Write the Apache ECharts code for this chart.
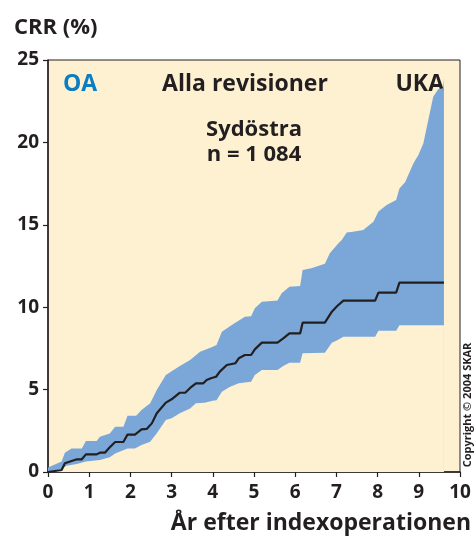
<!DOCTYPE html>
<html>
<head>
	<meta charset="utf-8">
	<script src="https://cdn.jsdelivr.net/npm/echarts@6/dist/echarts.min.js"></script>
</head>
<body style="margin:0;">
	<div id="main" style="width:475px;height:537px;"></div>
	<script type="text/javascript">
        // år efter indexoperationen / CRR (%)
        var meanYears = [0, 0.33, 0.41, 0.70, 0.82, 0.92, 1.18, 1.26, 1.38, 1.50, 1.63, 1.83, 1.93, 2.11, 2.27, 2.40, 2.52, 2.64, 2.86, 3.0, 3.2, 3.33, 3.45, 3.59, 3.77, 3.85, 3.97, 4.08, 4.17, 4.34, 4.55, 4.63, 4.78, 4.93, 5.02, 5.19, 5.57, 5.71, 5.86, 6.12, 6.18, 6.72, 6.89, 7.02, 7.17, 7.94, 8.02, 8.45, 8.53, 9.61];
        var meanValues = [0, 0.12, 0.53, 0.77, 0.77, 1.07, 1.07, 1.17, 1.17, 1.50, 1.82, 1.82, 2.27, 2.27, 2.59, 2.62, 2.95, 3.56, 4.21, 4.41, 4.81, 4.81, 5.10, 5.38, 5.38, 5.58, 5.70, 5.78, 6.09, 6.49, 6.60, 6.90, 7.10, 7.10, 7.44, 7.85, 7.85, 8.11, 8.41, 8.41, 9.06, 9.06, 9.73, 10.07, 10.40, 10.40, 10.88, 10.88, 11.49, 11.49];

        var upperYears = [0, 0.33, 0.41, 0.57, 0.82, 0.92, 1.18, 1.26, 1.50, 1.63, 1.83, 1.93, 2.14, 2.27, 2.48, 2.64, 2.86, 3.2, 3.45, 3.69, 3.97, 4.09, 4.22, 4.46, 4.78, 4.93, 5.02, 5.19, 5.57, 5.67, 5.86, 6.12, 6.18, 6.39, 6.72, 6.84, 7.05, 7.13, 7.25, 7.40, 7.65, 7.90, 8.02, 8.22, 8.45, 8.53, 8.67, 8.87, 8.99, 9.11, 9.23, 9.35, 9.47, 9.59, 9.61];
        var upperValues = [0.28, 0.63, 1.17, 1.43, 1.43, 1.88, 1.88, 2.14, 2.34, 2.75, 2.75, 3.42, 3.42, 3.76, 4.17, 4.98, 5.89, 6.43, 6.80, 7.30, 7.57, 7.71, 8.51, 8.92, 9.42, 9.45, 9.93, 10.33, 10.40, 10.84, 11.24, 11.28, 12.26, 12.36, 12.64, 13.27, 13.88, 14.08, 14.54, 14.58, 14.68, 15.19, 15.80, 16.20, 16.50, 17.21, 17.60, 18.73, 19.24, 19.94, 21.36, 22.77, 23.22, 23.28, 23.90];

        var lowerYears = [0, 0.33, 0.45, 0.70, 0.92, 1.26, 1.50, 1.63, 1.93, 2.11, 2.27, 2.48, 2.64, 2.86, 3.0, 3.2, 3.45, 3.59, 3.80, 4.0, 4.09, 4.22, 4.42, 4.63, 4.93, 5.02, 5.19, 5.57, 5.71, 5.86, 6.12, 6.18, 6.72, 6.89, 7.02, 7.17, 7.94, 8.02, 8.45, 8.53, 9.61];
        var lowerValues = [0, 0.20, 0.38, 0.48, 0.63, 0.73, 0.89, 1.13, 1.43, 1.43, 1.64, 1.84, 2.35, 3.16, 3.26, 3.56, 3.86, 4.17, 4.20, 4.33, 4.35, 4.87, 5.18, 5.38, 5.48, 5.89, 6.19, 6.19, 6.43, 6.63, 6.63, 7.20, 7.24, 7.85, 8.00, 8.21, 8.21, 8.57, 8.57, 8.90, 8.90];

        var xTicks = [0, 1, 2, 3, 4, 5, 6, 7, 8, 9, 10];
        var yTicks = [0, 5, 10, 15, 20, 25];

        function pairs(xs, ys) {
            return xs.map(function (x, i) { return [x, ys[i]]; });
        }

        var cream = '#fdf1d2';
        var blue = '#7ba7d8';
        var dark = '#231f20';
        var font = '"Open Sans", sans-serif';

        var myChart = echarts.init(document.getElementById('main'));
        var option = {
            animation: false,
            backgroundColor: '#ffffff',
            textStyle: { fontFamily: font },
            grid: {
                left: 48, right: 15, top: 60, bottom: 65,
                show: true,
                backgroundColor: cream,
                borderColor: dark,
                borderWidth: 1
            },
            xAxis: {
                type: 'value',
                min: xTicks[0],
                max: xTicks[xTicks.length - 1],
                interval: 1,
                splitLine: { show: false },
                axisLine: { lineStyle: { color: dark, width: 1.5 } },
                axisTick: { length: 5, lineStyle: { color: dark, width: 1.2 } },
                axisLabel: { color: dark, fontSize: 19, fontWeight: 'bold', fontFamily: font, margin: 11 }
            },
            yAxis: {
                type: 'value',
                min: yTicks[0],
                max: yTicks[yTicks.length - 1],
                interval: 5,
                splitLine: { show: false },
                axisLine: { show: true, lineStyle: { color: dark, width: 1.5 } },
                axisTick: { show: true, length: 5, lineStyle: { color: dark, width: 1.2 } },
                axisLabel: { color: dark, fontSize: 19, fontWeight: 'bold', fontFamily: font, margin: 9 }
            },
            series: [
                {
                    name: 'övre',
                    type: 'line',
                    data: pairs(upperYears, upperValues),
                    showSymbol: false,
                    lineStyle: { width: 0 },
                    areaStyle: { color: blue, opacity: 1 },
                    z: 1
                },
                {
                    name: 'undre',
                    type: 'line',
                    data: pairs(lowerYears, lowerValues),
                    showSymbol: false,
                    lineStyle: { width: 0 },
                    areaStyle: { color: cream, opacity: 1 },
                    z: 2
                },
                {
                    name: 'CRR',
                    type: 'line',
                    data: pairs(meanYears, meanValues),
                    showSymbol: false,
                    lineStyle: { color: dark, width: 2.2 },
                    z: 3
                }
            ],
            graphic: [
                { type: 'text', x: 14, y: 28, style: { text: 'CRR (%)', font: 'bold 22px ' + font, fill: dark, verticalAlign: 'middle' } },
                { type: 'text', x: 63, y: 84, style: { text: 'OA', font: 'bold 23px ' + font, fill: '#0b7dc3', verticalAlign: 'middle' } },
                { type: 'text', x: 245, y: 84, style: { text: 'Alla revisioner', font: 'bold 23px ' + font, fill: dark, align: 'center', verticalAlign: 'middle' } },
                { type: 'text', x: 444, y: 84, style: { text: 'UKA', font: 'bold 23px ' + font, fill: dark, align: 'right', verticalAlign: 'middle' } },
                { type: 'text', x: 254, y: 130, style: { text: 'Sydöstra', font: 'bold 22px ' + font, fill: dark, align: 'center', verticalAlign: 'middle' } },
                { type: 'text', x: 254, y: 155, style: { text: 'n = 1 084', font: 'bold 22px ' + font, fill: dark, align: 'center', verticalAlign: 'middle' } },
                { type: 'text', x: 471, y: 523, style: { text: 'År efter indexoperationen', font: 'bold 23px ' + font, fill: dark, align: 'right', verticalAlign: 'middle' } },
                { type: 'text', x: 468, y: 405, rotation: Math.PI / 2, style: { text: 'Copyright © 2004 SKAR', font: 'bold 11px ' + font, fill: dark, align: 'center', verticalAlign: 'middle' } }
            ]
        };
        myChart.setOption(option);
    </script>
</body>
</html>
